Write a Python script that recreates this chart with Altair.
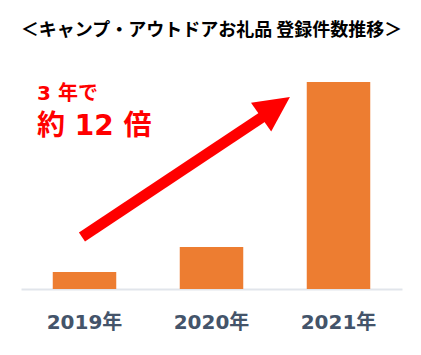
import altair as alt
import pandas as pd

# Bars
years = ["2019年", "2020年", "2021年"]
counts = [17, 42, 207]

# Annotation (in overlay scale units: x 0..3 across the three bands, y in count units)
arrow_x = [0.48, 1.913]
arrow_y = [52, 173]
head_x = [2.004]
head_y = [182]
head_angle = 55
note_texts = ["3 年で", "約 12 倍"]
note_x = [0.126, 0.126]
note_y = [189, 154]
note_sizes = [20, 28]

title_text = "＜キャンプ・アウトドアお礼品 登録件数推移＞"

bars_df = pd.DataFrame({"year": years, "count": counts})
arrow_df = pd.DataFrame({"x": arrow_x, "y": arrow_y})
head_df = pd.DataFrame({"x": head_x, "y": head_y})
notes_df = pd.DataFrame({"x": note_x, "y": note_y, "t": note_texts, "s": note_sizes})

yscale = alt.Scale(domain=[0, 207], nice=False, zero=True)
xq = alt.Scale(domain=[0, 3], nice=False, zero=False)

bars = alt.Chart(bars_df).mark_bar(color="#ED7D31").encode(
    x=alt.X("year:N", sort=years,
            scale=alt.Scale(paddingInner=0.5, paddingOuter=0.25),
            axis=alt.Axis(title=None, labelAngle=0, ticks=False, grid=False,
                          domainColor="#E1E5EB", domainWidth=2,
                          labelColor="#44546A", labelFontSize=20,
                          labelFontWeight="bold",
                          labelFont="DejaVu Sans, Noto Sans CJK JP",
                          labelPadding=23)),
    y=alt.Y("count:Q", scale=yscale, axis=None),
)

arrow = alt.Chart(arrow_df).mark_line(color="#FF0000", strokeWidth=11, strokeCap="butt").encode(
    x=alt.X("x:Q", scale=xq, axis=None),
    y=alt.Y("y:Q", scale=yscale, axis=None),
)

head = alt.Chart(head_df).mark_point(
    shape="M0,-1 L1,1 L-1,1 Z", filled=True, color="#FF0000", opacity=1,
    size=1240, angle=head_angle, strokeWidth=0,
).encode(
    x=alt.X("x:Q", scale=xq, axis=None),
    y=alt.Y("y:Q", scale=yscale, axis=None),
)

notes = alt.Chart(notes_df).mark_text(
    color="#FF0000", fontWeight="bold", align="left", baseline="alphabetic",
    font="DejaVu Sans, Noto Sans CJK JP",
).encode(
    x=alt.X("x:Q", scale=xq, axis=None),
    y=alt.Y("y:Q", scale=yscale, axis=None),
    text="t:N",
    size=alt.Size("s:Q", scale=None, legend=None),
)

overlay = alt.layer(arrow, head, notes)

chart = alt.layer(bars, overlay).resolve_scale(x="independent").properties(
    width=381, height=207,
    autosize=alt.AutoSizeParams(type="none"),
    padding={"left": 21, "top": 82, "right": 19, "bottom": 66},
    title=alt.TitleParams(title_text, fontSize=18, fontWeight="bold",
                          font="Noto Sans CJK JP", color="#000000",
                          anchor="middle", offset=42),
).configure_view(stroke=None)

chart.save("out.html", embed_options={"renderer": "svg", "actions": False})
